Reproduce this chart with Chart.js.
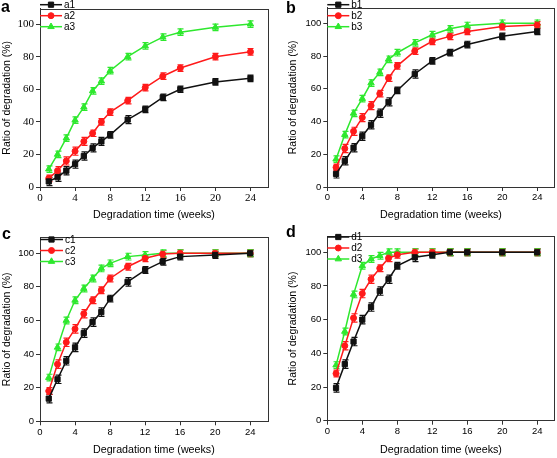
<!DOCTYPE html>
<html><head><meta charset="utf-8">
<script src="https://cdn.jsdelivr.net/npm/chart.js@4/dist/chart.umd.min.js"></script>
<style>
html,body{margin:0;padding:0;background:#fff;width:557px;height:458px;overflow:hidden}
canvas{position:absolute}
</style></head><body>
<canvas id="ca" width="278" height="224" style="left:0;top:0"></canvas>
<canvas id="cb" width="279" height="224" style="left:278px;top:0"></canvas>
<canvas id="cc" width="278" height="234" style="left:0;top:224px"></canvas>
<canvas id="cd" width="279" height="234" style="left:278px;top:224px"></canvas>
<script>
const weeks = [1,2,3,4,5,6,7,8,10,12,14,16,20,24];
const xTicks = [0,4,8,12,16,20,24];
const yTicks = [0,20,40,60,80,100];
const xTitle = 'Degradation time (weeks)';
const yTitle = 'Ratio of degradation (%)';

const a1 = [3.4,6,10,14,19,24,28,32,41.4,47.7,55,60,64.5,66.7];
const a2 = [5.3,10,16,22,28,33,40,46,53,61,68,73,80,83];
const a3 = [11,20,30,41,49,59,65,71.4,80,86.6,92,95,98,100];
const b1 = [8,16,24,31,38,45,52,59,69,77,82,87,92,95];
const b2 = [12,23.5,34,42.4,49.7,57,66.5,74,83,89,92,95,98,99];
const b3 = [17,32,45,54,63.5,70,78,82,88,93,96.6,98.6,100,100];
const c1 = [13.5,25,36,44,52.5,59,65,73,83,90,95,98,99,100];
const c2 = [18,34,47,55,64,72,78,85,92,97,99.5,100,100,100];
const c3 = [26,44,60,72,79,85,91,94,98,99,100,100,100,100];
const d1 = [19.5,33.6,47,60,67.5,77,84,92,97,98.5,100,100,100,100];
const d2 = [28,44.5,61,75.5,84,90.5,96.5,98.5,100,100,100,100,100,100];
const d3 = [33,53,75,92,96,98,100,100,100,100,100,100,100,100];

const e1 = [2.5,2.5,2.5,2.5,2.5,2.5,2.5,2,2.5,2,2,2,2,2];
const e2 = [2,2.5,2.5,2.5,2.5,2,2,2,2,2,2,2,2,2];
const e3 = [2,2,2,2,2,2,2,2,2,2,2,2,2,2];

const BLACK = '#111111', RED = '#ff1a1a', GREEN = '#2ee82e';

const errorBars = {
  id: 'errorBars',
  beforeDatasetsDraw(chart) {
    const ctx = chart.ctx, xs = chart.scales.x, ys = chart.scales.y;
    chart.data.datasets.forEach(ds => {
      ctx.save();
      ctx.strokeStyle = ds.borderColor; ctx.lineWidth = 1.2;
      ds.data.forEach((p, j) => {
        const e = ds.err[j];
        const px = Math.round(xs.getPixelForValue(p.x)) + 0.5;
        const y1 = ys.getPixelForValue(p.y + e), y2 = ys.getPixelForValue(p.y - e);
        ctx.beginPath();
        ctx.moveTo(px, y1); ctx.lineTo(px, y2);
        ctx.moveTo(px - 3, y1); ctx.lineTo(px + 3, y1);
        ctx.moveTo(px - 3, y2); ctx.lineTo(px + 3, y2);
        ctx.stroke();
      });
      ctx.restore();
    });
  }
};

const frame = {
  id: 'frame',
  afterDraw(chart) {
    const {left, top, right, bottom} = chart.chartArea, ctx = chart.ctx;
    ctx.save(); ctx.strokeStyle = '#333'; ctx.lineWidth = 1;
    ctx.strokeRect(Math.round(left) + 0.5, Math.round(top) + 0.5, Math.round(right - left), Math.round(bottom - top));
    ctx.restore();
  }
};

const inlineLegend = {
  id: 'inlineLegend',
  afterDraw(chart, args, o) {
    const ctx = chart.ctx;
    chart.data.datasets.forEach((ds, i) => {
      const y = o.y + i * o.dy;
      ctx.save();
      ctx.strokeStyle = ds.borderColor; ctx.lineWidth = 1.5;
      ctx.beginPath(); ctx.moveTo(o.x, y); ctx.lineTo(o.x + o.len, y); ctx.stroke();
      ctx.fillStyle = ds.backgroundColor; ctx.strokeStyle = ds.borderColor; ctx.lineWidth = 1;
      Chart.helpers.drawPoint(ctx, {pointStyle: ds.pointStyle, radius: ds.pointRadius, borderWidth: 1}, o.x + o.len / 2, y);
      ctx.fillStyle = '#000'; ctx.font = o.font; ctx.textBaseline = 'middle'; ctx.textAlign = 'left';
      ctx.fillText(ds.label, o.x + o.len + 2, y + 0.5);
      ctx.restore();
    });
  }
};

const panelLabel = {
  id: 'panelLabel',
  afterDraw(chart, args, o) {
    const ctx = chart.ctx;
    ctx.save(); ctx.fillStyle = '#000'; ctx.font = 'bold 16px "Liberation Sans", Arial, sans-serif';
    ctx.textBaseline = 'alphabetic'; ctx.fillText(o.text, o.x, o.y); ctx.restore();
  }
};

function series(label, values, err, color, style, r) {
  return {label, data: weeks.map((w, i) => ({x: w, y: values[i]})), err,
    borderColor: color, backgroundColor: color, pointStyle: style, pointRadius: r,
    pointBorderWidth: 1, borderWidth: 1.5, tension: 0};
}

function makeChart(id, datasets, cfg) {
  const sans = '"Liberation Sans", Arial, sans-serif';
  return new Chart(document.getElementById(id), {
    type: 'line',
    data: {datasets},
    options: {
      responsive: false, animation: false, events: [],
      layout: {autoPadding: false, padding: cfg.pad},
      plugins: {legend: {display: false}, tooltip: {enabled: false},
        inlineLegend: cfg.legend, panelLabel: cfg.letter},
      scales: {
        x: {type: 'linear', min: 0, max: 26,
          afterBuildTicks: s => { s.ticks = xTicks.map(v => ({value: v})); },
          afterFit: s => { s.height = cfg.xh; },
          ticks: {color: '#000', font: cfg.tickFont, padding: 1, maxRotation: 0, autoSkip: false},
          grid: {display: true, drawOnChartArea: false, tickLength: 4, tickColor: '#333'},
          border: {display: true, color: '#333'},
          title: {display: true, text: xTitle, color: '#000', font: {family: sans, size: 10.7}, padding: {top: 0, bottom: cfg.xtp}}},
        y: {min: 0, max: 109.5,
          afterBuildTicks: s => { s.ticks = yTicks.map(v => ({value: v})); },
          afterFit: s => { s.width = cfg.yw; },
          ticks: {color: '#000', font: cfg.tickFont, padding: 2, autoSkip: false},
          grid: {display: true, drawOnChartArea: false, tickLength: 4, tickColor: '#333'},
          border: {display: true, color: '#333'},
          title: {display: true, text: yTitle, color: '#000', font: {family: sans, size: 10.5}, padding: {top: cfg.ytp, bottom: 0}}}
      }
    },
    plugins: [errorBars, frame, inlineLegend, panelLabel]
  });
}

const serifTicks = {family: '"Liberation Serif", "Times New Roman", serif', size: 11};
const sansTicks = {family: '"Liberation Sans", Arial, sans-serif', size: 9.5};
const legFont = '10px "Liberation Sans", Arial, sans-serif';

makeChart('ca', [
  series('a1', a1, e1, BLACK, 'rect', 3.7),
  series('a2', a2, e2, RED, 'circle', 3),
  series('a3', a3, e3, GREEN, 'triangle', 3.7)
], {pad: {left: 0, top: 3, right: 10, bottom: 0}, yw: 40, xh: 37, xtp: 3, ytp: 1, tickFont: serifTicks,
  legend: {x: 40, y: 4.7, dy: 11, len: 22, font: legFont}, letter: {text: 'a', x: 1, y: 12}});

makeChart('cb', [
  series('b1', b1, e1, BLACK, 'rect', 3.7),
  series('b2', b2, e2, RED, 'circle', 3),
  series('b3', b3, e3, GREEN, 'triangle', 3.7)
], {pad: {left: 0, top: 3, right: 2.3, bottom: 0}, yw: 49.3, xh: 37, xtp: 3, ytp: 9, tickFont: sansTicks,
  legend: {x: 49.3, y: 4.7, dy: 11, len: 22, font: legFont}, letter: {text: 'b', x: 8, y: 13}});

makeChart('cc', [
  series('c1', c1, e1, BLACK, 'rect', 3.7),
  series('c2', c2, e2, RED, 'circle', 3),
  series('c3', c3, e3, GREEN, 'triangle', 3.7)
], {pad: {left: 0, top: 13.3, right: 10.3, bottom: 0}, yw: 40, xh: 36.7, xtp: 2, ytp: 1, tickFont: sansTicks,
  legend: {x: 40, y: 15.5, dy: 11, len: 23, font: legFont}, letter: {text: 'c', x: 2, y: 15}});

makeChart('cd', [
  series('d1', d1, e1, BLACK, 'rect', 3.7),
  series('d2', d2, e2, RED, 'circle', 3),
  series('d3', d3, e3, GREEN, 'triangle', 3.7)
], {pad: {left: 0, top: 12.3, right: 2.3, bottom: 0}, yw: 49.3, xh: 37.3, xtp: 2, ytp: 9, tickFont: sansTicks,
  legend: {x: 49.3, y: 13, dy: 11, len: 22, font: legFont}, letter: {text: 'd', x: 8, y: 13}});
</script>
</body></html>
